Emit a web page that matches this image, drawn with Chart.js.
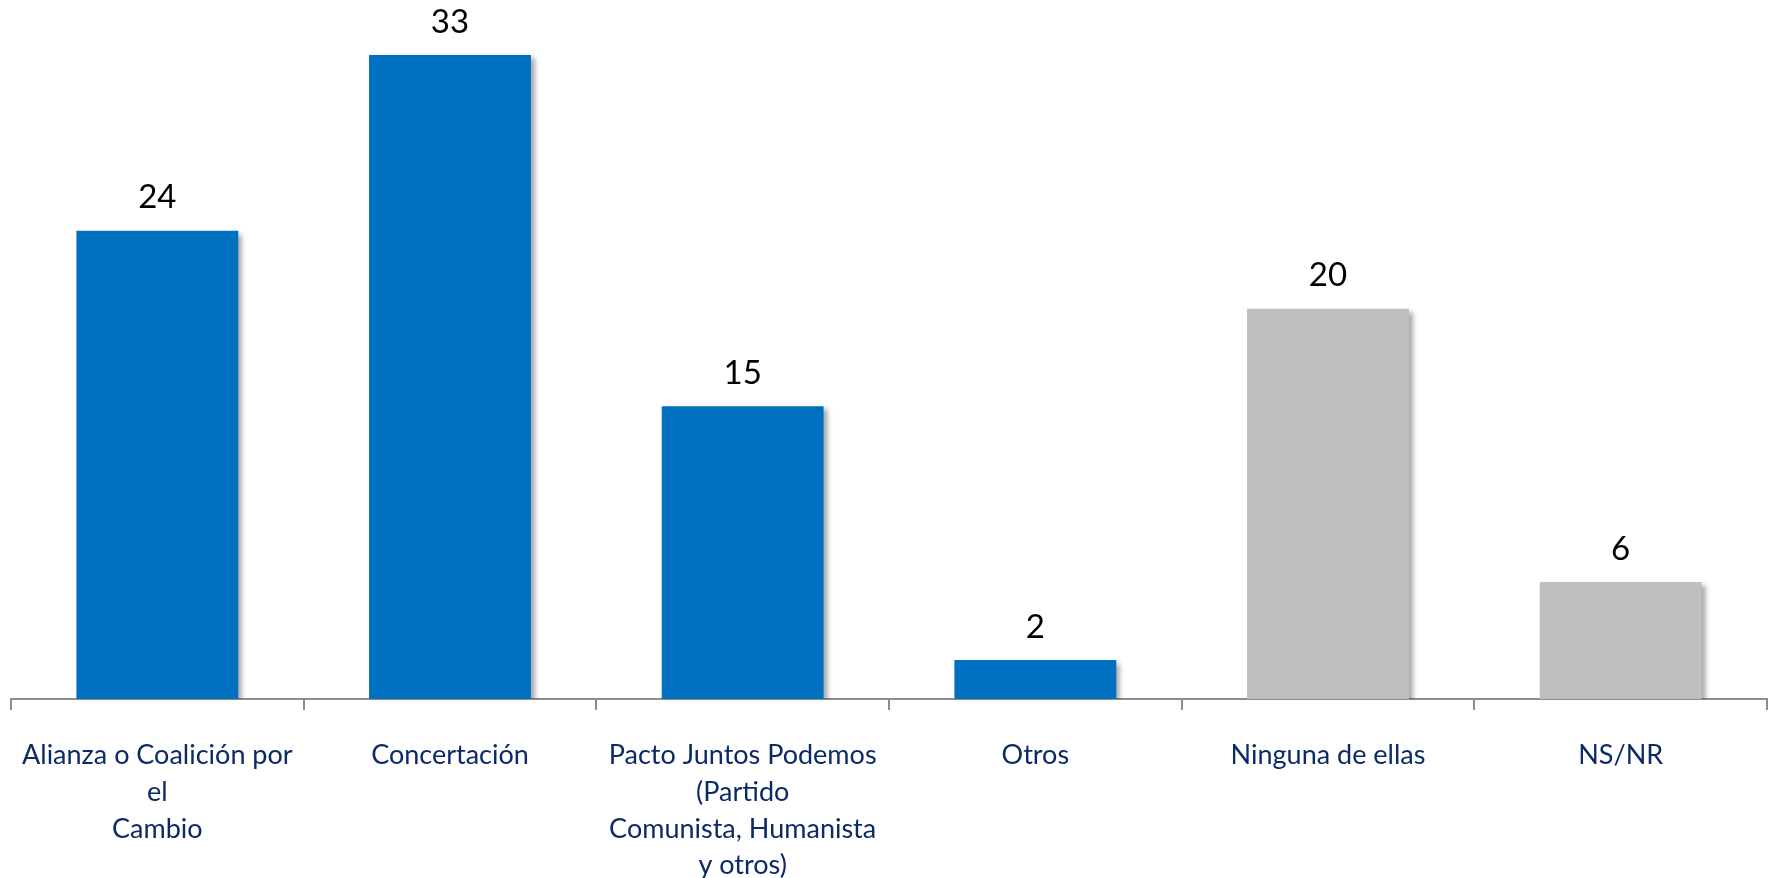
<!DOCTYPE html>
<html>
<head>
<meta charset="utf-8">
<script src="https://cdn.jsdelivr.net/npm/chart.js@4"></script>
<style>
html,body{margin:0;padding:0;background:#fff;}
#wrap{width:1773px;height:878px;position:relative;}
</style>
</head>
<body>
<div id="wrap"><canvas id="c" width="1773" height="878"></canvas></div>
<script>
const categories = [
  ["Alianza o Coalición por", "el", "Cambio"],
  ["Concertación"],
  ["Pacto Juntos Podemos", "(Partido", "Comunista, Humanista", "y otros)"],
  ["Otros"],
  ["Ninguna de ellas"],
  ["NS/NR"]
];
const values = [24, 33, 15, 2, 20, 6];
const barColors = ["#0070C0", "#0070C0", "#0070C0", "#0070C0", "#BFBFBF", "#BFBFBF"];

const shadowPlugin = {
  id: 'shadow',
  beforeDatasetsDraw(chart) {
    const ctx = chart.ctx;
    ctx.save();
    ctx.shadowColor = 'rgba(0,0,0,0.35)';
    ctx.shadowBlur = 5;
    ctx.shadowOffsetX = 4;
    ctx.shadowOffsetY = 3;
  },
  afterDatasetsDraw(chart) {
    chart.ctx.restore();
    const ctx = chart.ctx;
    const meta = chart.getDatasetMeta(0);
    ctx.save();
    ctx.fillStyle = '#000';
    ctx.font = '33px Lato, "Open Sans", sans-serif';
    ctx.textAlign = 'center';
    ctx.textBaseline = 'middle';
    meta.data.forEach((bar, i) => {
      ctx.fillText(String(values[i]), bar.x, bar.y - 33);
    });
    ctx.restore();
  }
};

new Chart(document.getElementById('c'), {
  type: 'bar',
  data: {
    labels: categories,
    datasets: [{
      data: values,
      backgroundColor: barColors,
      borderWidth: 0,
      categoryPercentage: 1.0,
      barPercentage: 0.553
    }]
  },
  options: {
    responsive: false,
    animation: false,
    layout: { padding: { top: 16, left: 11, right: 6, bottom: 0 } },
    plugins: { legend: { display: false }, tooltip: { enabled: false } },
    scales: {
      y: { display: false, min: 0, max: 35 },
      x: {
        afterFit(scale) {
          scale.height = 179;
          scale.paddingLeft = 0;
          scale.paddingRight = 0;
        },
        grid: {
          display: true,
          drawOnChartArea: false,
          drawTicks: true,
          tickLength: 11,
          color: '#8C8C8C',
          lineWidth: 2,
          offset: true
        },
        border: { display: true, color: '#8C8C8C', width: 2 },
        ticks: {
          color: '#0B2A66',
          padding: 27,
          maxRotation: 0,
          autoSkip: false,
          font: { family: 'Lato, "Open Sans", sans-serif', size: 27, lineHeight: 1.36 }
        }
      }
    }
  },
  plugins: [shadowPlugin]
});
</script>
</body>
</html>
